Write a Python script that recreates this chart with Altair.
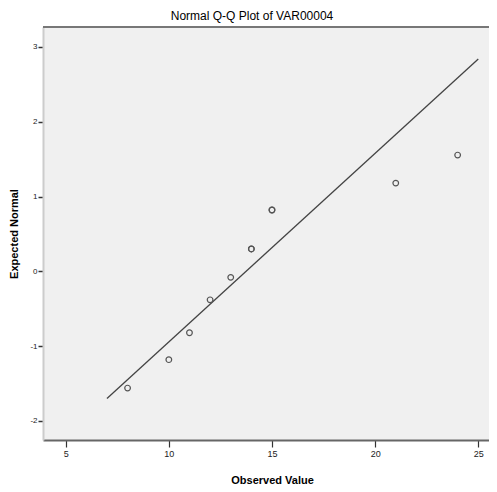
import altair as alt
import pandas as pd

# Data
observed = [8, 10, 11, 12, 13, 14, 14, 15, 15, 21, 24]
expected = [-1.56, -1.18, -0.82, -0.38, -0.08, 0.30, 0.30, 0.82, 0.82, 1.18, 1.555]
line_x = [7, 25]
line_y = [-1.70, 2.84]

x_ticks = [5, 10, 15, 20, 25]
y_ticks = [-2, -1, 0, 1, 2, 3]

FONT = "Liberation Sans"
W, H = 446, 413

pts = pd.DataFrame({"x": observed, "y": expected})
ln = pd.DataFrame({"x": line_x, "y": line_y})

xs = alt.Scale(domain=[3.9, 25.52], nice=False, zero=False)
ys = alt.Scale(domain=[-2.254, 3.267], nice=False, zero=False)

xaxis = alt.Axis(
    values=x_ticks, grid=False, title="Observed Value",
    titleFont=FONT, titleFontSize=11, titleFontWeight="bold", titleColor="#000",
    titleX=229, titleY=40, titleBaseline="middle", titleAnchor="middle", titleAlign="center",
    labelFont=FONT, labelFontSize=9, labelColor="#222", labelPadding=2,
    tickSize=7, tickColor="#333", tickWidth=1.2,
    domainColor="#666", domainWidth=2,
)
yaxis = alt.Axis(
    values=y_ticks, grid=False, title="Expected Normal",
    titleFont=FONT, titleFontSize=11, titleFontWeight="bold", titleColor="#000",
    titleX=-29, titleBaseline="middle",
    labelFont=FONT, labelFontSize=8, labelColor="#222", labelPadding=1,
    labelExpr="datum.value + ''",
    tickSize=5, tickColor="#333", tickWidth=1.5,
    domainColor="#cccccc", domainWidth=2,
)

line = alt.Chart(ln).mark_line(color="#444", strokeWidth=1.3).encode(
    x=alt.X("x:Q", scale=xs, axis=xaxis),
    y=alt.Y("y:Q", scale=ys, axis=yaxis),
)
points = alt.Chart(pts).mark_point(
    shape="circle", filled=False, color="#555", size=32, strokeWidth=1.2, opacity=1
).encode(x=alt.X("x:Q", scale=xs), y=alt.Y("y:Q", scale=ys))

top = alt.Chart(pd.DataFrame({"a": [0]})).mark_rule(color="#777", strokeWidth=2).encode(
    x=alt.value(0), x2=alt.value(W), y=alt.value(0)
)

chart = alt.layer(line, points, top).properties(
    width=W, height=H,
    autosize=alt.AutoSizeParams(type="none"),
    padding={"left": 35, "top": 19, "right": 0, "bottom": 44},
    title=alt.TitleParams(
        "Normal Q-Q Plot of VAR00004", font=FONT, fontSize=12, fontWeight="normal",
        color="#000", anchor="middle", frame="group", dx=-14, offset=3,
    ),
    background="white",
).configure_view(fill="#f0f0f0", stroke=None)

chart.save("out.html", embed_options={"renderer": "svg", "actions": False})
